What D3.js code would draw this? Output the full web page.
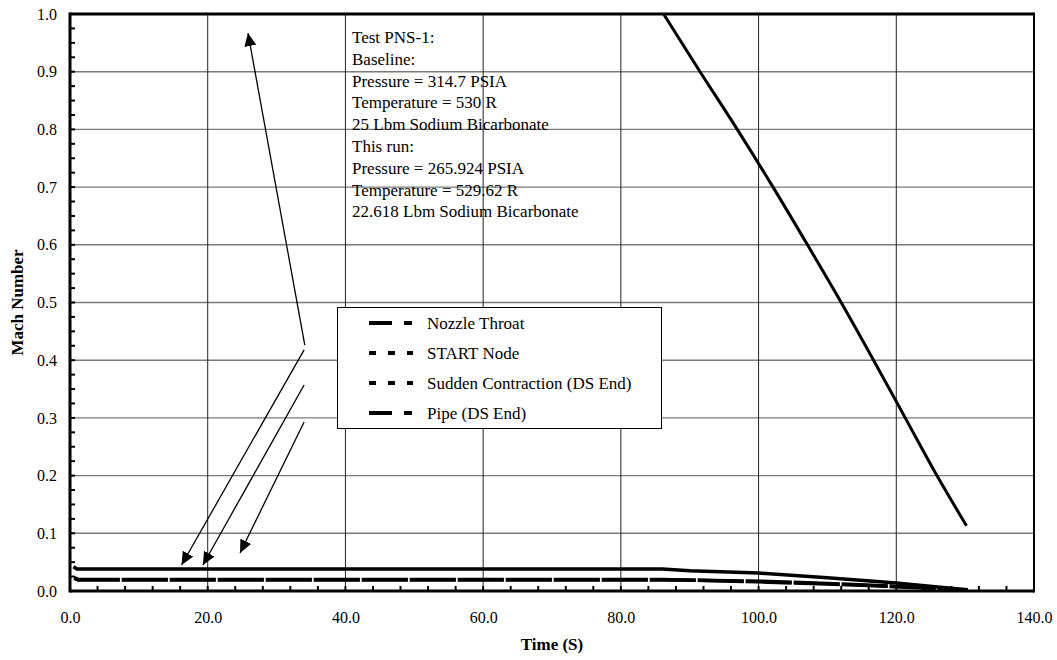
<!DOCTYPE html>
<html>
<head>
<meta charset="utf-8">
<script src="https://cdn.jsdelivr.net/npm/d3@7"></script>
<style>
  body { margin: 0; background: #fff; }
  text { font-family: "Liberation Serif", "Times New Roman", serif; fill: #000; }
</style>
</head>
<body>
<div id="chart"></div>
<script>
var svgWidth = 1057;
var svgHeight = 660;

var margin = {
  top: 14,
  right: 23,
  bottom: 69,
  left: 70
};

var width = svgWidth - margin.left - margin.right;
var height = svgHeight - margin.top - margin.bottom;

// Data
var xTicks = [0, 20, 40, 60, 80, 100, 120, 140];
var yTicks = [0, 0.1, 0.2, 0.3, 0.4, 0.5, 0.6, 0.7, 0.8, 0.9, 1.0];

var nozzleTime = [86.2, 91.5, 96.9, 102.1, 107.1, 112.0, 116.7, 121.3, 125.9, 130.2];
var nozzleMach = [1.0, 0.9, 0.8, 0.7, 0.6, 0.5, 0.4, 0.3, 0.2, 0.113];

var startTime = [0.6, 1.2, 86, 100, 110, 120, 126, 130.4];
var startMach = [0.023, 0.020, 0.020, 0.016, 0.012, 0.0075, 0.004, 0.001];

var suddenTime = [0.6, 1.2, 88, 100, 110, 120, 126, 130.4];
var suddenMach = [0.022, 0.019, 0.019, 0.017, 0.013, 0.008, 0.005, 0.001];

var pipeTime = [0.5, 1.0, 86, 90, 100, 110, 120, 126, 130.4];
var pipeMach = [0.042, 0.038, 0.038, 0.035, 0.031, 0.023, 0.014, 0.007, 0.002];

var legendNames = ["Nozzle Throat", "START Node", "Sudden Contraction (DS End)", "Pipe (DS End)"];

var noteLines = [
  "Test PNS-1:",
  "Baseline:",
  "Pressure = 314.7 PSIA",
  "Temperature = 530 R",
  "25 Lbm Sodium Bicarbonate",
  "This run:",
  "Pressure = 265.924 PSIA",
  "Temperature = 529.62 R",
  "22.618 Lbm Sodium Bicarbonate"
];

// arrows in data units: [fromTime, fromMach, toTime, toMach]
var arrows = [
  [34.1, 0.426, 25.85, 0.967],
  [34.0, 0.418, 16.2, 0.045],
  [34.0, 0.357, 19.3, 0.045],
  [34.0, 0.293, 24.7, 0.066]
];

function zip(t, m) {
  return t.map((d, i) => ({ t: d, m: m[i] }));
}

var svg = d3.select("#chart")
  .append("svg")
  .attr("width", svgWidth)
  .attr("height", svgHeight);

var chartGroup = svg.append("g")
  .attr("transform", `translate(${margin.left}, ${margin.top})`);

var xLinearScale = d3.scaleLinear().domain([0, 140]).range([0, width]);
var yLinearScale = d3.scaleLinear().domain([0, 1]).range([height, 0]);

// gridlines
chartGroup.selectAll(".hgrid")
  .data(yTicks.slice(1, -1))
  .enter()
  .append("line")
  .attr("x1", 0).attr("x2", width)
  .attr("y1", d => yLinearScale(d)).attr("y2", d => yLinearScale(d))
  .attr("stroke", "#7a7a7a")
  .attr("stroke-width", 1.4);

chartGroup.selectAll(".vgrid")
  .data(xTicks.slice(1, -1))
  .enter()
  .append("line")
  .attr("x1", d => xLinearScale(d)).attr("x2", d => xLinearScale(d))
  .attr("y1", 0).attr("y2", height)
  .attr("stroke", "#222")
  .attr("stroke-width", 1);

// annotation text
var note = chartGroup.append("text")
  .attr("font-size", "17px");
note.selectAll("tspan")
  .data(noteLines)
  .enter()
  .append("tspan")
  .attr("x", 282)
  .attr("y", (d, i) => 29 + i * 21.8)
  .text(d => d);

// arrows
var defs = svg.append("defs");
defs.append("marker")
  .attr("id", "head")
  .attr("viewBox", "0 0 13 12")
  .attr("refX", 13).attr("refY", 6)
  .attr("markerWidth", 13).attr("markerHeight", 12)
  .attr("markerUnits", "userSpaceOnUse")
  .attr("orient", "auto")
  .append("path")
  .attr("d", "M0,0 L13,6 L0,12 Z")
  .attr("fill", "#000");

defs.append("clipPath")
  .attr("id", "plotClip")
  .append("rect")
  .attr("width", width).attr("height", height);

chartGroup.selectAll(".arrow")
  .data(arrows)
  .enter()
  .append("line")
  .attr("x1", d => xLinearScale(d[0])).attr("y1", d => yLinearScale(d[1]))
  .attr("x2", d => xLinearScale(d[2])).attr("y2", d => yLinearScale(d[3]))
  .attr("stroke", "#000")
  .attr("stroke-width", 1.3)
  .attr("marker-end", "url(#head)");

// series
var line = d3.line()
  .x(d => xLinearScale(d.t))
  .y(d => yLinearScale(d.m));

var smoothLine = d3.line()
  .curve(d3.curveMonotoneX)
  .x(d => xLinearScale(d.t))
  .y(d => yLinearScale(d.m));

var lines = chartGroup.append("g").attr("clip-path", "url(#plotClip)");

lines.append("path")
  .datum(zip(suddenTime, suddenMach))
  .attr("d", line)
  .attr("fill", "none").attr("stroke", "#000")
  .attr("stroke-width", 3.5)
  .attr("stroke-dasharray", "46,2");

lines.append("path")
  .datum(zip(startTime, startMach))
  .attr("d", line)
  .attr("fill", "none").attr("stroke", "#000")
  .attr("stroke-width", 3.5)
  .attr("stroke-dasharray", "46,2");

lines.append("path")
  .datum(zip(pipeTime, pipeMach))
  .attr("d", line)
  .attr("fill", "none").attr("stroke", "#000")
  .attr("stroke-width", 3.5);

lines.append("path")
  .datum(zip(nozzleTime, nozzleMach))
  .attr("d", smoothLine)
  .attr("fill", "none").attr("stroke", "#000")
  .attr("stroke-width", 3);

// frame
chartGroup.append("line").attr("x1", 0).attr("x2", 0).attr("y1", -1.5).attr("y2", height + 1.5)
  .attr("stroke", "#000").attr("stroke-width", 3);
chartGroup.append("line").attr("x1", 0).attr("x2", width).attr("y1", 0).attr("y2", 0)
  .attr("stroke", "#000").attr("stroke-width", 3);
chartGroup.append("line").attr("x1", 0).attr("x2", width).attr("y1", height).attr("y2", height)
  .attr("stroke", "#000").attr("stroke-width", 3);
chartGroup.append("line").attr("x1", width).attr("x2", width).attr("y1", -1.5).attr("y2", height + 1.5)
  .attr("stroke", "#000").attr("stroke-width", 2);

// minor ticks (inside)
chartGroup.selectAll(".xminor")
  .data(d3.range(0, 141, 4))
  .enter()
  .append("line")
  .attr("x1", d => xLinearScale(d)).attr("x2", d => xLinearScale(d))
  .attr("y1", height).attr("y2", height - 5)
  .attr("stroke", "#000").attr("stroke-width", 2);

chartGroup.selectAll(".yminor")
  .data(d3.range(0, 41).map(d => d * 0.025))
  .enter()
  .append("line")
  .attr("x1", 0).attr("x2", 5)
  .attr("y1", d => yLinearScale(d)).attr("y2", d => yLinearScale(d))
  .attr("stroke", "#000").attr("stroke-width", 2);

// axes labels
var bottomAxis = d3.axisBottom(xLinearScale)
  .tickValues(xTicks)
  .tickSize(0)
  .tickPadding(21)
  .tickFormat(d => d.toFixed(1));
var leftAxis = d3.axisLeft(yLinearScale)
  .tickValues(yTicks)
  .tickSize(0)
  .tickPadding(13)
  .tickFormat(d => d.toFixed(1));

var xAxis = chartGroup.append("g")
  .attr("transform", `translate(0, ${height})`)
  .call(bottomAxis);
var yAxis = chartGroup.append("g")
  .call(leftAxis);

[xAxis, yAxis].forEach(function(a) {
  a.select(".domain").remove();
  a.selectAll("text")
    .attr("font-family", "Liberation Serif, Times New Roman, serif")
    .attr("font-size", "16px")
    .attr("fill", "#000");
});

// legend
var legend = svg.append("g");
legend.append("rect")
  .attr("x", 337.5).attr("y", 307.5)
  .attr("width", 324).attr("height", 121)
  .attr("fill", "#fff")
  .attr("stroke", "#000")
  .attr("stroke-width", 1);

var legendDash = ["23,12,8,12", "7,12", "7,12", "23,12,8,12"];
legendNames.forEach(function(name, i) {
  var cy = 323 + i * 30;
  legend.append("line")
    .attr("x1", 369).attr("x2", 413)
    .attr("y1", cy).attr("y2", cy)
    .attr("stroke", "#000")
    .attr("stroke-width", 4)
    .attr("stroke-dasharray", legendDash[i]);
  legend.append("text")
    .attr("x", 427).attr("y", cy + 5.5)
    .attr("font-size", "17px")
    .text(name);
});

// axis titles
svg.append("text")
  .attr("x", margin.left + width / 2)
  .attr("y", 650)
  .attr("text-anchor", "middle")
  .attr("font-size", "17px")
  .attr("font-weight", "bold")
  .text("Time (S)");

svg.append("text")
  .attr("transform", `translate(23, ${margin.top + height / 2}) rotate(-90)`)
  .attr("text-anchor", "middle")
  .attr("font-size", "17px")
  .attr("font-weight", "bold")
  .text("Mach Number");
</script>
</body>
</html>
